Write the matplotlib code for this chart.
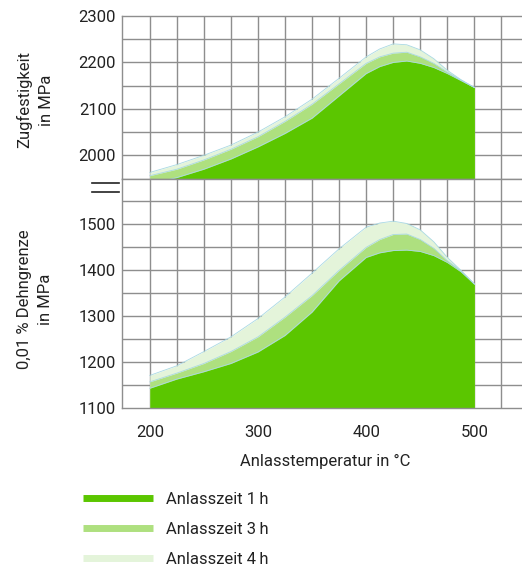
import matplotlib
matplotlib.use("Agg")
import matplotlib.pyplot as plt
from matplotlib.lines import Line2D

plt.rcParams['font.family'] = ['Roboto', 'DejaVu Sans']

# Temperatures (°C)
temps = [200, 225, 250, 275, 300, 325, 350, 375, 400, 412.5, 425, 437.5, 450, 462.5, 475, 487.5, 500]

# Zugfestigkeit (MPa)
uts_1h = [1938, 1952, 1970, 1992, 2018, 2047, 2080, 2128, 2176, 2191, 2200, 2203, 2198, 2189, 2176, 2161, 2146]
uts_3h = [1956, 1970, 1990, 2013, 2040, 2073, 2110, 2154, 2198, 2212, 2220, 2222, 2212, 2198, 2179, 2162, 2146]
uts_4h = [1963, 1980, 2000, 2022, 2050, 2083, 2121, 2166, 2212, 2229, 2240, 2238, 2227, 2208, 2183, 2163, 2146]

# 0,01 % Dehngrenze (MPa)
ys_1h = [1143, 1163, 1179, 1197, 1222, 1258, 1309, 1377, 1428, 1438, 1443, 1444, 1441, 1432, 1417, 1397, 1370]
ys_3h = [1157, 1176, 1197, 1223, 1255, 1298, 1345, 1400, 1450, 1467, 1478, 1479, 1467, 1448, 1421, 1399, 1370]
ys_4h = [1171, 1192, 1223, 1255, 1295, 1342, 1394, 1447, 1494, 1503, 1507, 1502, 1488, 1462, 1428, 1400, 1370]

labels = ["Anlasszeit 1\u2009h", "Anlasszeit 3\u2009h", "Anlasszeit 4\u2009h"]
colors = ["#5BC600", "#AEE07F", "#E4F4DA"]
edge = "#A9D9E3"
grid_c = "#8E8E8E"
txt_c = "#222222"

fig = plt.figure(figsize=(5.22, 5.67), dpi=100)
left = 121.7 / 522
W = 1.0 - left
ax_top = fig.add_axes([left, 1 - 178.5 / 567, W, (178.5 - 16) / 567])
ax_bot = fig.add_axes([left, 1 - 408 / 567, W, (408 - 178.5) / 567])

xt_grid = list(range(200, 550, 25))

def style(ax, ylim, yticks, ygrid):
    ax.set_xlim(174, 544)
    ax.set_ylim(*ylim)
    ax.set_axisbelow(True)
    for y in ygrid:
        ax.axhline(y, color=grid_c, lw=1.0, zorder=0)
    for x in xt_grid:
        ax.axvline(x, color=grid_c, lw=1.0, zorder=0)
    ax.set_yticks(yticks)
    ax.tick_params(axis='y', length=0, pad=4, labelsize=12, colors=txt_c)
    ax.tick_params(axis='x', length=0)
    ax.spines['right'].set_visible(False)
    for s in ['left', 'bottom', 'top']:
        ax.spines[s].set_color(grid_c)
        ax.spines[s].set_linewidth(1.0)

style(ax_top, (1950, 2300), [2000, 2100, 2200, 2300], range(2000, 2300, 50))
style(ax_bot, (1100, 1600), [1100, 1200, 1300, 1400, 1500], range(1150, 1600, 50))

ax_top.set_xticks([200, 300, 400, 500])
ax_top.tick_params(axis='x', labelbottom=False)
ax_bot.set_xticks([200, 300, 400, 500])
ax_bot.tick_params(axis='x', labelsize=12, pad=12, colors=txt_c)

for ax, series, base in [(ax_top, [uts_4h, uts_3h, uts_1h], 1900),
                         (ax_bot, [ys_4h, ys_3h, ys_1h], 1100)]:
    for vals, col in zip(series, colors[::-1]):
        ax.fill_between(temps, base, vals, color=col, lw=0, zorder=2)
        ax.plot(temps, vals, color=edge, lw=0.6, zorder=2.5)

fig.text(35 / 522, 1 - 100 / 567, "Zugfestigkeit\nin MPa", rotation=90,
         ha='center', va='center', fontsize=12, color=txt_c, linespacing=1.55)
fig.text(35 / 522, 1 - 299 / 567, "0,01 % Dehngrenze\nin MPa", rotation=90,
         ha='center', va='center', fontsize=12, color=txt_c, linespacing=1.55)
fig.text(325 / 522, 1 - 461 / 567, "Anlasstemperatur in °C", ha='center', va='center',
         fontsize=12, color=txt_c)

# axis break marks
for yy in (183, 192):
    fig.add_artist(Line2D([92 / 522, 119 / 522], [1 - yy / 567, 1 - yy / 567],
                          color=txt_c, lw=1.2, transform=fig.transFigure))

handles = [Line2D([], [], color=c, lw=5, solid_capstyle='butt') for c in colors]
fig.legend(handles, labels, loc='upper left', bbox_to_anchor=(83 / 522, 1 - 492 / 567),
           frameon=False, fontsize=12, handlelength=4.2, handletextpad=0.8,
           labelspacing=0.9, borderpad=0, borderaxespad=0, labelcolor=txt_c)

fig.savefig("out.png", dpi=100)
